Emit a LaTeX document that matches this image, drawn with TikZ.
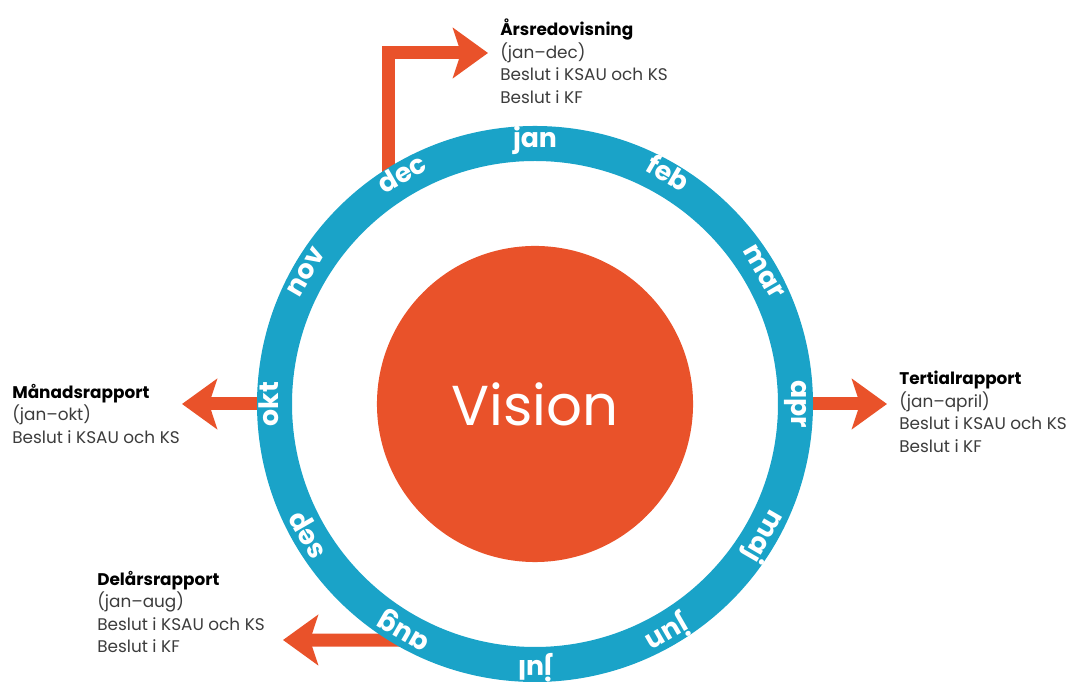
\documentclass[tikz,border=0pt]{standalone}
\usepackage{fontspec}
\setmainfont{Poppins}
\usetikzlibrary{arrows.meta, positioning}
\definecolor{visionorange}{HTML}{E9522A}
\definecolor{ringblue}{HTML}{1AA3C8}
\definecolor{textgrey}{HTML}{3C3C3C}
\newcommand\cx{535}
\newcommand\cy{279}

\begin{document}
\begin{tikzpicture}[x=0.025cm, y=0.025cm,
    month/.style={text=white, font=\fontsize{19}{19}\selectfont\bfseries, inner sep=0pt, text height=1ex, text depth=0pt},
    report/.style={anchor=north west, align=left, inner sep=0pt, text=textgrey, font=\fontsize{12}{16}\selectfont},
    flow/.style={draw=visionorange, line width=0.325cm, -{Stealth[length=0.875cm, width=1.25cm, inset=0.2cm]}}]

    \useasboundingbox (0,0) rectangle (1068,683);
    \coordinate (c) at (\cx, \cy);

    % Reports
    \node[report] (aars) at (500, 664) {\textbf{\color{black}Årsredovisning}\\(jan--dec)\\Beslut i KSAU och KS\\Beslut i KF};
    \node[report] (tert) at (899, 312) {\textbf{\color{black}Tertialrapport}\\(jan--april)\\Beslut i KSAU och KS\\Beslut i KF};
    \node[report] (mand) at (12, 299) {\textbf{\color{black}Månadsrapport}\\(jan--okt)\\Beslut i KSAU och KS};
    \node[report] (dela) at (97, 112) {\textbf{\color{black}Delårsrapport}\\(jan--aug)\\Beslut i KSAU och KS\\Beslut i KF};

    % Arrows out of the ring
    \path (c) ++(124:262) coordinate (dec-out);
    \path (c) ++(0:262) coordinate (apr-out);
    \path (c) ++(180:262) coordinate (okt-out);
    \path (c) ++(244.3:262) coordinate (aug-out);
    \coordinate (aars-tip) at (488, 630);
    \coordinate (tert-tip) at (887, \cy);
    \coordinate (mand-tip) at (182, \cy);
    \coordinate (dela-tip) at (283, 43);

    \draw[flow] (dec-out) |- (aars-tip);
    \draw[flow] (apr-out) -- (tert-tip);
    \draw[flow] (okt-out) -- (mand-tip);
    \draw[flow] (aug-out) -- (dela-tip);

    % Ring
    \draw[ringblue, line width=0.875cm] (c) circle (260.5);
    \foreach \m [count=\i from 0] in {jan,feb,mar,apr,maj,jun,jul,aug,sep,okt,nov,dec} {
        \pgfmathsetmacro\ang{90-30*\i}
        \path (c) ++(\ang:260.5) node[month, rotate=\ang-90] (m-\m) {\m};
    }

    % Vision
    \node[circle, fill=visionorange, minimum size=7.9cm, inner sep=0pt, text=white, font=\fontsize{40}{40}\selectfont] (vision) at (c) {Vision};

\end{tikzpicture}
\end{document}
